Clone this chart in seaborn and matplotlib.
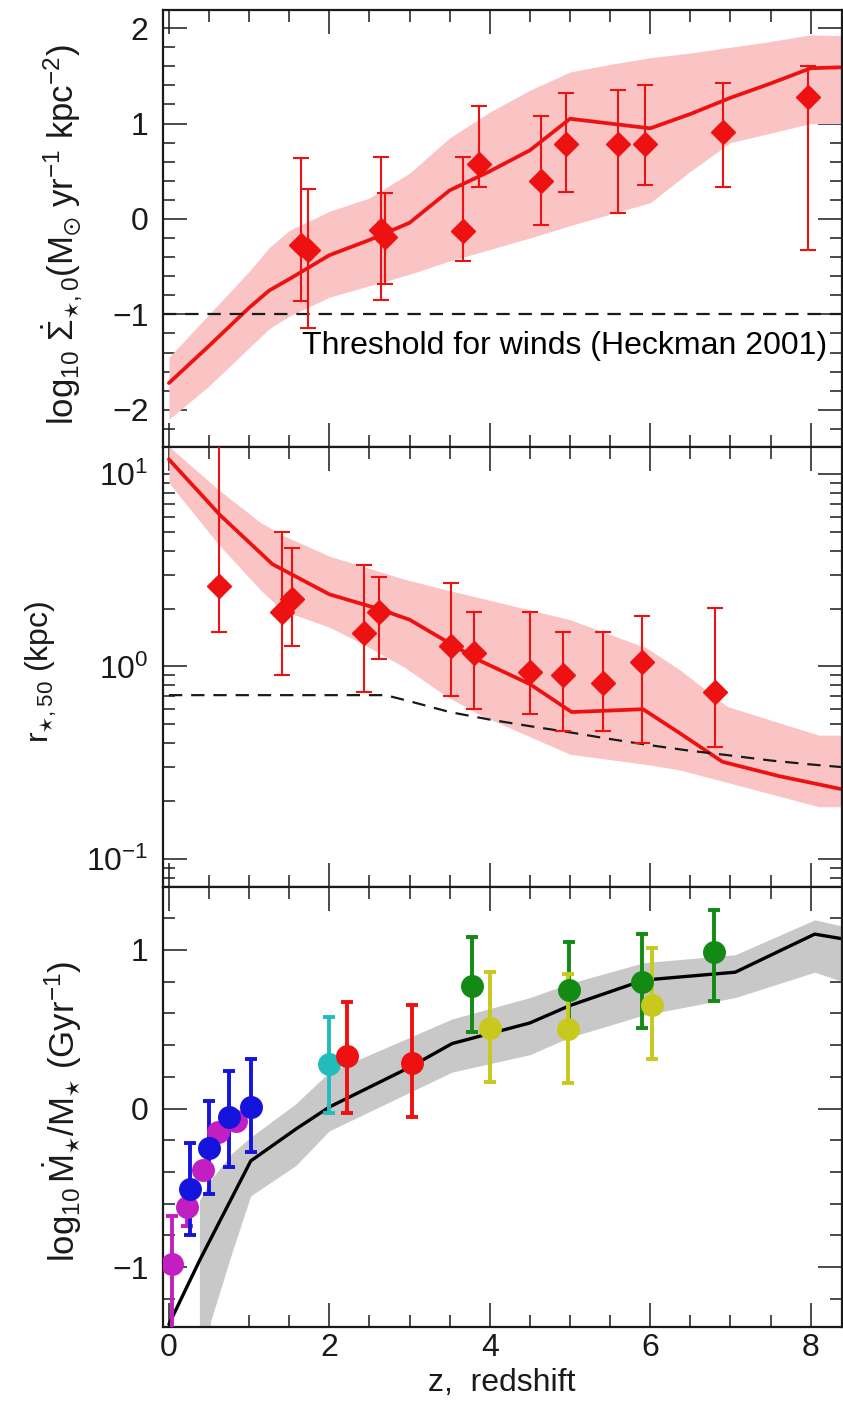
import numpy as np
import matplotlib
matplotlib.use("Agg")
import matplotlib.pyplot as plt
import seaborn as sns
from matplotlib.ticker import MultipleLocator, LogLocator, NullFormatter

# ---------------- data ----------------
# top panel: log10 SFR surface density
sd_z = [1.65, 1.73, 2.64, 2.69, 3.66, 3.87, 4.64, 4.95, 5.60, 5.93, 6.91, 7.97]
sd_val = [-0.27, -0.33, -0.12, -0.19, -0.13, 0.58, 0.40, 0.79, 0.79, 0.79, 0.91, 1.28]
sd_hi = [0.64, 0.31, 0.65, 0.27, 0.65, 1.18, 1.08, 1.32, 1.35, 1.40, 1.43, 1.60]
sd_lo = [-0.86, -1.14, -0.85, -0.68, -0.44, 0.34, -0.06, 0.28, 0.06, 0.36, 0.34, -0.33]
sd_model_z = [0.0, 0.5, 1.0, 1.25, 1.5, 2.0, 2.5, 3.0, 3.5, 4.0, 4.5, 5.0, 5.5, 6.0, 6.5, 7.0, 7.5, 8.0, 8.4]
sd_model = [-1.72, -1.33, -0.93, -0.75, -0.63, -0.38, -0.22, -0.04, 0.30, 0.50, 0.72, 1.05, 1.00, 0.95, 1.10, 1.27, 1.42, 1.58, 1.59]
sd_up = [-1.45, -1.00, -0.55, -0.30, -0.12, 0.08, 0.22, 0.48, 0.85, 1.12, 1.35, 1.54, 1.62, 1.69, 1.74, 1.80, 1.86, 1.93, 1.92]
sd_dn = [-2.10, -1.75, -1.35, -1.15, -1.02, -0.82, -0.70, -0.58, -0.44, -0.32, -0.20, -0.07, 0.05, 0.17, 0.50, 0.80, 0.90, 1.00, 1.00]
wind_threshold = -1.0

# middle panel: half-mass radius (kpc)
r_z = [0.63, 1.41, 1.53, 2.43, 2.62, 3.52, 3.80, 4.50, 4.91, 5.41, 5.90, 6.81]
r_val = [2.62, 1.92, 2.25, 1.50, 1.91, 1.28, 1.17, 0.94, 0.905, 0.82, 1.06, 0.74]
r_hi = [14.0, 5.0, 4.12, 3.37, 2.90, 2.71, 1.91, 1.91, 1.51, 1.51, 1.84, 2.02]
r_lo = [1.51, 0.905, 1.28, 0.74, 1.10, 0.70, 0.60, 0.57, 0.465, 0.465, 0.40, 0.38]
r_model_z = [0.0, 0.64, 1.29, 2.0, 2.6, 3.0, 3.5, 3.88, 4.5, 5.02, 5.91, 6.37, 6.9, 7.6, 8.4]
r_model = [11.9, 6.1, 3.4, 2.37, 2.0, 1.75, 1.32, 1.07, 0.81, 0.58, 0.60, 0.45, 0.32, 0.27, 0.23]
r_band_z = [0.0, 0.6, 1.14, 1.42, 2.0, 2.43, 2.92, 3.46, 3.88, 5.0, 5.95, 6.37, 6.96, 8.1, 8.4]
r_up = [13.9, 8.4, 5.6, 4.8, 3.74, 3.3, 2.85, 2.5, 2.27, 1.75, 1.25, 0.96, 0.62, 0.44, 0.44]
r_dn = [9.0, 4.4, 2.5, 1.95, 1.6, 1.3, 1.0, 0.70, 0.56, 0.35, 0.31, 0.29, 0.25, 0.187, 0.187]
r_dash_z = [0.0, 2.7, 3.0, 3.5, 4.0, 4.5, 5.0, 5.5, 6.0, 6.5, 7.0, 7.5, 8.0, 8.4]
r_dash = [0.71, 0.71, 0.66, 0.58, 0.53, 0.49, 0.455, 0.42, 0.39, 0.365, 0.345, 0.325, 0.31, 0.30]

# bottom panel: log10 specific SFR (Gyr^-1)
mag_z = [0.04, 0.22, 0.42, 0.61, 0.83]
mag_v = [-0.98, -0.62, -0.39, -0.15, -0.076]
mag_hi = [-0.675, -0.53, -0.35, -0.11, -0.04]
mag_lo = [-1.45, -0.74, -0.43, -0.19, -0.11]
blu_z = [0.265, 0.50, 0.75, 1.02]
blu_v = [-0.505, -0.25, -0.055, 0.013]
blu_hi = [-0.22, 0.05, 0.24, 0.315]
blu_lo = [-0.795, -0.54, -0.37, -0.275]
cya_z = [2.0]
cya_v = [0.28]
cya_hi = [0.58]
cya_lo = [-0.03]
red_z = [2.22, 3.03]
red_v = [0.33, 0.29]
red_hi = [0.67, 0.65]
red_lo = [-0.03, -0.05]
grn_z = [3.78, 4.99, 5.90, 6.80]
grn_v = [0.77, 0.75, 0.80, 0.99]
grn_hi = [1.08, 1.05, 1.10, 1.25]
grn_lo = [0.48, 0.46, 0.51, 0.68]
yel_z = [4.0, 4.98, 6.02]
yel_v = [0.51, 0.50, 0.65]
yel_hi = [0.86, 0.85, 1.01]
yel_lo = [0.17, 0.16, 0.31]
ss_model_z = [0.0, 0.38, 1.02, 1.58, 2.0, 3.0, 3.53, 4.5, 5.0, 5.92, 7.06, 8.05, 8.4]
ss_model = [-1.36, -0.96, -0.33, -0.13, 0.01, 0.26, 0.41, 0.54, 0.65, 0.81, 0.86, 1.10, 1.07]
ss_band_z = [0.38, 0.52, 0.79, 1.02, 1.58, 2.0, 3.53, 4.5, 5.0, 5.92, 7.06, 8.05, 8.4]
ss_up = [-0.58, -0.45, -0.28, -0.18, 0.03, 0.23, 0.565, 0.70, 0.79, 0.92, 0.97, 1.19, 1.15]
ss_dn = [-3.0, -1.34, -0.90, -0.55, -0.36, -0.14, 0.23, 0.34, 0.45, 0.59, 0.70, 0.86, 0.80]

# ---------------- style ----------------
sns.set_theme(style="white")
plt.rcParams['font.family'] = ['Liberation Sans', 'DejaVu Sans']
plt.rcParams['mathtext.fontset'] = 'custom'
plt.rcParams['mathtext.rm'] = 'Liberation Sans'
plt.rcParams['mathtext.it'] = 'Liberation Sans:italic'
plt.rcParams['mathtext.bf'] = 'Liberation Sans:bold'
plt.rcParams['mathtext.sf'] = 'Liberation Sans'
plt.rcParams['mathtext.fallback'] = 'stixsans'

RED = '#ee1111'
PINK = '#fac4c4'
GREY = '#c8c8c8'
INK = '#1a1a1a'
FS = 23

fig = plt.figure(figsize=(8.43, 14.13), dpi=100)
L = 162.5 / 843
W = (842 - 162.5) / 843


def rect(t, b):
    return [L, 1 - b / 1413, W, (b - t) / 1413]


ax1 = fig.add_axes(rect(10, 447))
ax2 = fig.add_axes(rect(447, 887))
ax3 = fig.add_axes(rect(887, 1327))

for ax in (ax1, ax2, ax3):
    ax.set_xlim(-0.08, 8.39)
    ax.xaxis.set_major_locator(MultipleLocator(2))
    ax.xaxis.set_minor_locator(MultipleLocator(0.5))
    ax.tick_params(which='both', direction='in', top=True, right=True,
                   bottom=True, left=True, width=1.1, color=INK, labelcolor=INK)
    ax.tick_params(which='major', length=17, labelsize=FS)
    ax.tick_params(which='minor', length=8.5)
    ax.tick_params(axis='y', which='both', pad=10)
    ax.tick_params(axis='x', which='both', pad=4)
    for s in ax.spines.values():
        s.set_linewidth(1.6)
        s.set_color(INK)
    ax.grid(False)

# ---- top panel ----
ax1.fill_between(sd_model_z, sd_dn, sd_up, color=PINK, lw=0, zorder=1)
sns.lineplot(x=sd_model_z, y=sd_model, ax=ax1, color=RED, lw=2.7, zorder=2, sort=False)
ax1.axhline(wind_threshold, color=INK, lw=1.6, ls=(0, (6, 4)), zorder=2)
sd_err = [np.array(sd_val) - np.array(sd_lo), np.array(sd_hi) - np.array(sd_val)]
ax1.errorbar(sd_z, sd_val, yerr=sd_err, fmt='D', ms=12.5, color=RED, ecolor=RED,
             elinewidth=1.5, capsize=5.5, capthick=1.5, zorder=3)
ax1.text(8.2, -1.42, 'Threshold for winds (Heckman 2001)', ha='right', va='baseline',
         fontsize=23, color='black', zorder=4)
ax1.set_ylim(-2.39, 2.19)
ax1.yaxis.set_major_locator(MultipleLocator(1))
ax1.yaxis.set_minor_locator(MultipleLocator(0.2))
ax1.tick_params(labelbottom=False)
ax1.set_ylabel(r'$\mathrm{log}_{10}\ \dot{\Sigma}_{\star,0}(\mathrm{M}_{\odot}\ \mathrm{yr}^{-1}\ \mathrm{kpc}^{-2})$',
               fontsize=25, va='center', color=INK)
ax1.yaxis.set_label_coords(-0.147, 0.485)

# ---- middle panel ----
ax2.set_yscale('log')
ax2.fill_between(r_band_z, r_dn, r_up, color=PINK, lw=0, zorder=1)
sns.lineplot(x=r_model_z, y=r_model, ax=ax2, color=RED, lw=2.7, zorder=2, sort=False)
sns.lineplot(x=r_dash_z, y=r_dash, ax=ax2, color=INK, lw=1.6, zorder=2, sort=False,
             dashes=False, linestyle=(0, (6, 4)))
r_err = [np.array(r_val) - np.array(r_lo), np.array(r_hi) - np.array(r_val)]
ax2.errorbar(r_z, r_val, yerr=r_err, fmt='D', ms=12.5, color=RED, ecolor=RED,
             elinewidth=1.5, capsize=5.5, capthick=1.5, zorder=3)
ax2.set_ylim(0.0716, 13.8)
ax2.yaxis.set_major_locator(LogLocator(base=10, numticks=10))
ax2.yaxis.set_minor_locator(LogLocator(base=10, subs=np.arange(2, 10), numticks=20))
ax2.yaxis.set_minor_formatter(NullFormatter())
ax2.tick_params(labelbottom=False)
ax2.set_ylabel(r'$\mathrm{r}_{\star,50}$ (kpc)', fontsize=FS, va='center', color=INK)
ax2.yaxis.set_label_coords(-0.179, 0.49)

# ---- bottom panel ----
ax3.fill_between(ss_band_z, ss_dn, ss_up, color=GREY, lw=0, zorder=1)
sns.lineplot(x=ss_model_z, y=ss_model, ax=ax3, color='black', lw=2.4, zorder=2, sort=False)

groups = [
    (mag_z, mag_v, mag_lo, mag_hi, '#c21ec2'),
    (blu_z, blu_v, blu_lo, blu_hi, '#1414dc'),
    (cya_z, cya_v, cya_lo, cya_hi, '#22bcbc'),
    (red_z, red_v, red_lo, red_hi, '#ee1111'),
    (grn_z, grn_v, grn_lo, grn_hi, '#138a13'),
    (yel_z, yel_v, yel_lo, yel_hi, '#c8c81e'),
]
for gz, gv, glo, ghi, col in groups:
    err = [np.array(gv) - np.array(glo), np.array(ghi) - np.array(gv)]
    ax3.errorbar(gz, gv, yerr=err, fmt='o', ms=15.5, color=col, ecolor=col, mec=col,
                 elinewidth=2.8, capsize=4.6, capthick=2.8, zorder=3)

ax3.set_ylim(-1.377, 1.397)
ax3.yaxis.set_major_locator(MultipleLocator(1))
ax3.yaxis.set_minor_locator(MultipleLocator(0.2))
ax3.set_ylabel(r'$\mathrm{log}_{10}\,\dot{\mathrm{M}}_{\star}/\mathrm{M}_{\star}$ (Gyr$^{-1}$)',
               fontsize=25, va='center', color=INK)
ax3.yaxis.set_label_coords(-0.147, 0.49)
ax3.set_xlabel('z,  redshift', fontsize=FS, color=INK, labelpad=4)

fig.savefig('out.png', dpi=100)
